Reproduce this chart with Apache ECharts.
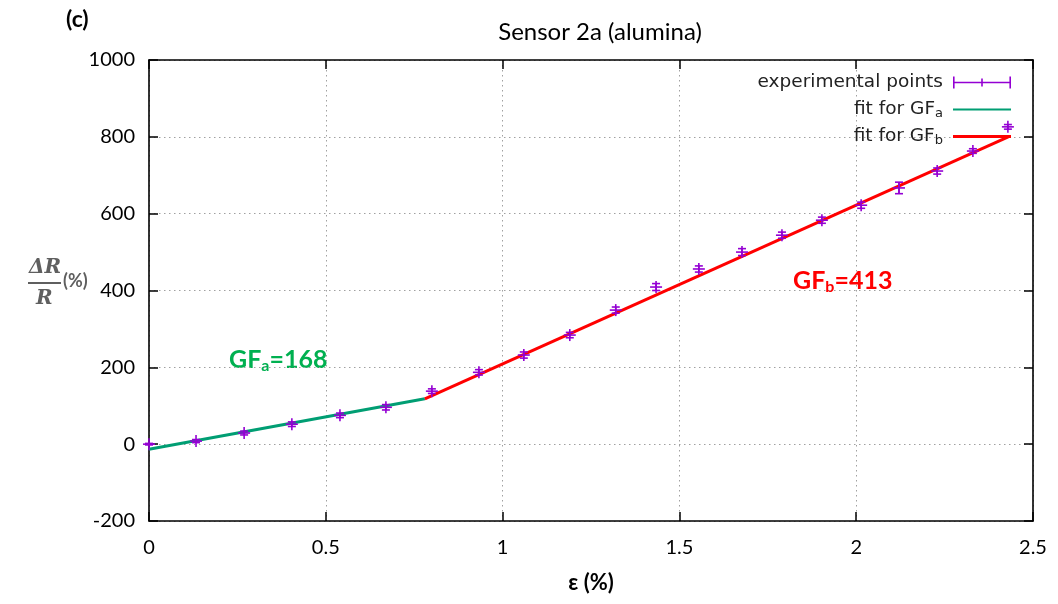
<!DOCTYPE html>
<html>
<head>
<meta charset="utf-8">
<script src="https://cdn.jsdelivr.net/npm/echarts@6/dist/echarts.min.js"></script>
<style>
  html, body { margin: 0; padding: 0; background: #fff; }
  #chart { width: 1058px; height: 604px; }
</style>
</head>
<body>
<div id="chart"></div>
<script>
// strain (%) of each measured point
const strain = [0, 0.133, 0.269, 0.404, 0.54, 0.67, 0.80, 0.933, 1.06, 1.19, 1.32,
  1.434, 1.555, 1.677, 1.79, 1.903, 2.014, 2.121, 2.229, 2.33, 2.429];
// ΔR/R (%)
const dR = [0, 8, 29, 52, 75, 96, 138, 187, 232, 284, 349,
  409, 456, 500, 544, 583, 622, 667, 711, 763, 826];
// error bar half height
const dRerr = [2, 4, 5, 6, 6, 7, 6, 7, 8, 7, 8, 9, 8, 9, 8, 8, 8, 15, 8, 6, 6];

// fitted lines (end points)
const fitA = [[0, -13], [0.78, 118]];
const fitB = [[0.78, 118], [2.43, 800]];

const xTicks = [0, 0.5, 1, 1.5, 2, 2.5];
const yTicks = [-200, 0, 200, 400, 600, 800, 1000];

const points = strain.map((x, i) => [x, dR[i], dRerr[i]]);

const purple = '#9400d3';
const green = '#009e73';
const red = '#ff0000';
const tickFont = 'Lato';
const legendFont = 'DejaVu Sans';

/**
 * 误差棒 + 十字点
 */
function renderErr(params, api) {
  const x = api.value(0);
  const y = api.value(1);
  const e = api.value(2);
  const c = api.coord([x, y]);
  const hi = api.coord([x, y + e])[1];
  const lo = api.coord([x, y - e])[1];
  const cap = 4;
  const arm = 6;
  const style = { stroke: purple, lineWidth: 1.6, fill: null };
  return {
    type: 'group',
    children: [
      { type: 'line', shape: { x1: c[0], y1: hi, x2: c[0], y2: lo }, style },
      { type: 'line', shape: { x1: c[0] - cap, y1: hi, x2: c[0] + cap, y2: hi }, style },
      { type: 'line', shape: { x1: c[0] - cap, y1: lo, x2: c[0] + cap, y2: lo }, style },
      { type: 'line', shape: { x1: c[0] - arm, y1: c[1], x2: c[0] + arm, y2: c[1] }, style },
      { type: 'line', shape: { x1: c[0], y1: c[1] - arm, x2: c[0], y2: c[1] + arm }, style },
    ],
  };
}

const axisTick = {
  show: true,
  inside: true,
  length: 9,
  lineStyle: { color: '#000', width: 1.5 },
};

const axisLine = {
  show: true,
  onZero: false,
  lineStyle: { color: '#000', width: 1.6 },
};

const splitLine = {
  show: true,
  lineStyle: { color: '#a0a0a0', type: [1.5, 3.5], width: 1 },
};

const legendText = {
  fontFamily: legendFont,
  fontSize: 18.5,
  color: '#222',
  padding: [0, 5, 0, 0],
  rich: {
    t: { fontFamily: legendFont, fontSize: 18.5, color: '#222' },
    s: { fontFamily: legendFont, fontSize: 13, color: '#222', verticalAlign: 'bottom', padding: [9, 0, 0, 0] },
  },
};

function legendAt(name, top, icon, h) {
  return {
    data: [name],
    right: 47,
    top,
    orient: 'vertical',
    align: 'right',
    padding: 0,
    itemWidth: 58,
    itemHeight: h,
    icon,
    selectedMode: false,
    textStyle: legendText,
    formatter: (n) => {
      if (n === 'fit for GFa') return '{t|fit for GF}{s|a}';
      if (n === 'fit for GFb') return '{t|fit for GF}{s|b}';
      return n;
    },
  };
}

const option = {
  animation: false,
  backgroundColor: '#fff',
  title: {
    text: 'Sensor 2a (alumina)',
    left: 595,
    textAlign: 'center',
    top: 15,
    textStyle: { fontFamily: 'Lato', fontWeight: 'normal', fontSize: 24, color: '#000' },
  },
  legend: [
    legendAt('experimental points', 73, 'path://M0,5.3L58,5.3L58,6.7L0,6.7Z M0,0L1.6,0L1.6,12L0,12Z M28.2,2L29.8,2L29.8,10L28.2,10Z M56.4,0L58,0L58,12L56.4,12Z', 12),
    legendAt('fit for GFa', 100, 'rect', 2),
    legendAt('fit for GFb', 127, 'rect', 3),
  ],
  grid: { left: 149, right: 25, top: 60, bottom: 83 },
  xAxis: [{
    type: 'value',
    min: 0,
    max: 2.5,
    interval: 0.5,
    axisLine,
    axisTick,
    splitLine,
    axisLabel: {
      margin: 17,
      fontFamily: tickFont,
      fontSize: 20,
      color: '#000',
      formatter: v => (xTicks.includes(v) ? String(v) : ''),
    },
    name: 'ε (%)',
    nameLocation: 'middle',
    nameGap: 51,
    nameTextStyle: { fontFamily: 'Lato', fontWeight: 'bold', fontSize: 22, color: '#000' },
  }, {
    type: 'value',
    position: 'top',
    min: 0,
    max: 2.5,
    interval: 0.5,
    axisLine,
    axisTick,
    splitLine: { show: false },
    axisLabel: { show: false },
  }],
  yAxis: [{
    type: 'value',
    min: -200,
    max: 1000,
    interval: 200,
    axisLine,
    axisTick,
    splitLine,
    axisLabel: {
      margin: 14,
      fontFamily: tickFont,
      fontSize: 20,
      color: '#000',
      formatter: v => (yTicks.includes(v) ? String(v) : ''),
    },
  }, {
    type: 'value',
    position: 'right',
    min: -200,
    max: 1000,
    interval: 200,
    axisLine,
    axisTick,
    splitLine: { show: false },
    axisLabel: { show: false },
  }],
  series: [
    {
      name: 'fit for GFa',
      type: 'line',
      data: fitA,
      symbol: 'none',
      color: green,
      lineStyle: { color: green, width: 3 },
      z: 3,
    },
    {
      name: 'fit for GFb',
      type: 'line',
      data: fitB,
      symbol: 'none',
      color: red,
      lineStyle: { color: red, width: 3 },
      z: 3,
    },
    {
      name: 'experimental points',
      type: 'custom',
      renderItem: renderErr,
      encode: { x: 0, y: 1 },
      itemStyle: { color: purple },
      data: points,
      z: 4,
    },
  ],
  graphic: [
    {
      type: 'text', left: 66, top: 8,
      style: { text: '(c)', font: 'bold 23px Lato', fill: '#000' },
    },
    {
      type: 'text', left: 29, top: 258,
      style: { text: 'ΔR', font: 'italic bold 20px "DejaVu Serif"', fill: '#5f5f5f' },
    },
    {
      type: 'rect', left: 28, top: 282,
      shape: { width: 33, height: 2 },
      style: { fill: '#5f5f5f' },
    },
    {
      type: 'text', left: 36, top: 289,
      style: { text: 'R', font: 'italic bold 20px "DejaVu Serif"', fill: '#5f5f5f' },
    },
    {
      type: 'text', left: 63, top: 272,
      style: { text: '(%)', font: 'bold 18px Lato', fill: '#5f5f5f' },
    },
    {
      type: 'text', left: 229, top: 347,
      style: {
        text: '{a|GF}{b|a}{a|=168}',
        rich: {
          a: { font: 'bold 25px Lato', fill: '#00b050' },
          b: { font: 'bold 16px Lato', fill: '#00b050', padding: [12, 0, 0, 0] },
        },
      },
    },
    {
      type: 'text', left: 793, top: 268,
      style: {
        text: '{a|GF}{b|b}{a|=413}',
        rich: {
          a: { font: 'bold 25px Lato', fill: '#ff0000' },
          b: { font: 'bold 16px Lato', fill: '#ff0000', padding: [12, 0, 0, 0] },
        },
      },
    },
  ],
};

const chart = echarts.init(document.getElementById('chart'));
chart.setOption(option);
</script>
</body>
</html>
